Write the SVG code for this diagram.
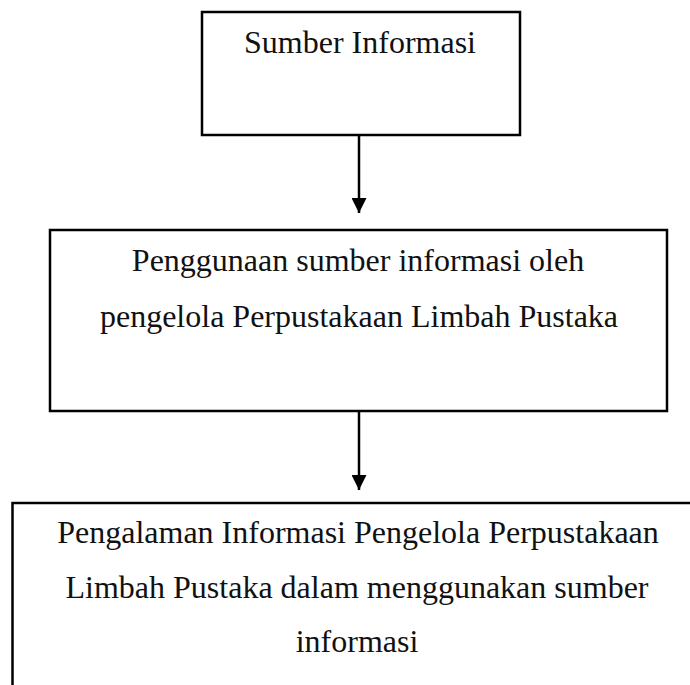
<svg xmlns="http://www.w3.org/2000/svg" width="690" height="685" viewBox="0 0 690 685">
<style>
.box{fill:#ffffff;stroke:#000000;stroke-width:2.5}
.lbl{font-family:"Liberation Serif","Times New Roman",serif;font-size:32px;fill:#111111;text-anchor:middle}
.conn{stroke:#000000;stroke-width:2.5;fill:none}
</style>
<defs>
<marker id="arr" markerUnits="userSpaceOnUse" markerWidth="16" markerHeight="15" refX="15" refY="7.5" orient="auto">
<path d="M0,0 L15,7.5 L0,15 Z" fill="#000000"/>
</marker>
</defs>
<rect width="690" height="685" fill="#ffffff"/>
<g id="node-sumber">
<rect class="box" x="202" y="12" width="318" height="123"/>
<text class="lbl" x="360" y="53">Sumber Informasi</text>
</g>
<g id="node-penggunaan">
<rect class="box" x="50" y="230" width="617" height="181"/>
<text class="lbl" x="358" y="271">Penggunaan sumber informasi oleh</text>
<text class="lbl" x="359" y="327">pengelola Perpustakaan Limbah Pustaka</text>
</g>
<g id="node-pengalaman">
<rect class="box" x="12.5" y="503" width="720" height="260"/>
<text class="lbl" x="358" y="543">Pengalaman Informasi Pengelola Perpustakaan</text>
<text class="lbl" x="357" y="598">Limbah Pustaka dalam menggunakan sumber</text>
<text class="lbl" x="357" y="652">informasi</text>
</g>
<g id="connectors">
<line class="conn" x1="359" y1="135" x2="359" y2="213" marker-end="url(#arr)"/>
<line class="conn" x1="359" y1="411" x2="359" y2="490" marker-end="url(#arr)"/>
</g>
</svg>
